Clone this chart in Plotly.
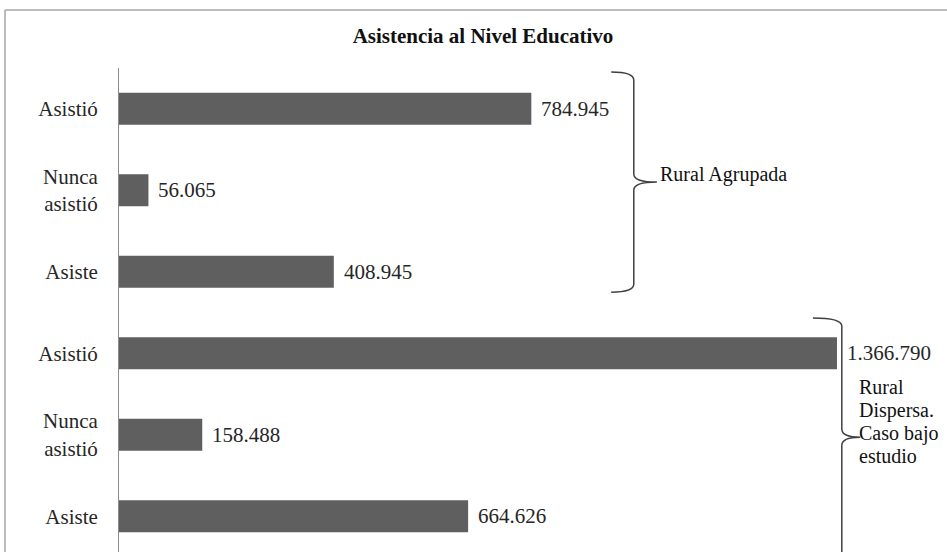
"""Asistencia al nivel educativo, rural agrupada vs rural dispersa."""

import plotly.graph_objects as go


CATEGORIES = ["Asistió", "Nunca<br>asistió", "Asiste",
              "Asistió", "Nunca<br>asistió", "Asiste"]
VALUES = [784945, 56065, 408945, 1366790, 158488, 664626]
GROUP_AGRUPADA = ["Rural Agrupada"]
GROUP_DISPERSA = ["Rural", "Dispersa.", "Caso bajo", "estudio"]
TITLE = "Asistencia al Nivel Educativo"

FONT = "Liberation Serif"
BAR_COLOR = "#5f5f5f"
TEXT_COLOR = "#262626"

W, H = 947, 552
M_L, M_R, M_T, M_B = 119, 0, 68, 0
SLOT = 81.5
PX_PER_UNIT = 525.3 / 1e6
LINE_GAP = 23


def spanish(n):
    return f"{n:,}".replace(",", ".")


def brace(x_line, x_hook, x_tip, y_top, y_mid, y_bot, r=0.1):
    """Curly bracket opening to the left, in data coordinates."""
    return (f"M {x_hook},{y_top} Q {x_line},{y_top} {x_line},{y_top + r} "
            f"L {x_line},{y_mid - r} Q {x_line},{y_mid} {x_tip},{y_mid} "
            f"Q {x_line},{y_mid} {x_line},{y_mid + r} "
            f"L {x_line},{y_bot - r} Q {x_line},{y_bot} {x_hook},{y_bot}")


def add_label(fig, lines, x, y):
    """Left aligned text block, one annotation per line for tight spacing."""
    mid = (len(lines) - 1) / 2
    for i, line in enumerate(lines):
        fig.add_annotation(x=x, y=y, text=line, showarrow=False,
                           xanchor="left", yanchor="middle",
                           yshift=(mid - i) * LINE_GAP,
                           font=dict(family=FONT, size=20, color="#111111"))


positions = list(range(len(VALUES)))
plot_w = W - M_L - M_R
plot_h = H - M_T - M_B
x_max = plot_w / PX_PER_UNIT
y_bottom = plot_h / SLOT - 0.5

fig = go.Figure(go.Bar(
    x=VALUES,
    y=positions,
    orientation="h",
    width=0.39,
    marker=dict(color=BAR_COLOR, line=dict(width=0)),
    hoverinfo="skip",
))

for pos, val in zip(positions, VALUES):
    fig.add_annotation(
        x=val, y=pos, text=spanish(val), showarrow=False,
        xanchor="left", yanchor="middle", xshift=8,
        font=dict(family=FONT, size=21, color=TEXT_COLOR),
    )

# brackets and group labels
fig.add_shape(type="path", xref="x", yref="y",
              path=brace(0.980e6, 0.937e6, 1.024e6, -0.45, 0.90, 2.25, 0.1),
              line=dict(color="#404040", width=1.5))
fig.add_shape(type="path", xref="x", yref="y",
              path=brace(1.376e6, 1.321e6, 1.411e6, 2.567, 4.03, 6.5, 0.1),
              line=dict(color="#404040", width=1.5))
add_label(fig, GROUP_AGRUPADA, 1.026e6, 0.81)
add_label(fig, GROUP_DISPERSA, 1.405e6, 3.84)

# outer frame (cropped on the right and bottom)
fx = (5 - M_L) / plot_w
fy = (H - 10 - M_B) / plot_h
fig.add_shape(type="line", xref="paper", yref="paper",
              x0=fx, y0=fy, x1=1.2, y1=fy,
              line=dict(color="#a6a6a6", width=1.5))
fig.add_shape(type="line", xref="paper", yref="paper",
              x0=fx, y0=-0.2, x1=fx, y1=fy,
              line=dict(color="#a6a6a6", width=1.5))

fig.update_layout(
    width=W, height=H,
    margin=dict(l=M_L, r=M_R, t=M_T, b=M_B, pad=0),
    paper_bgcolor="white", plot_bgcolor="white",
    showlegend=False,
    title=dict(text=f"<b>{TITLE}</b>", x=483 / W, xanchor="center",
               y=1 - 36 / H, yanchor="middle",
               font=dict(family=FONT, size=21, color="#111111")),
    xaxis=dict(visible=False, range=[0, x_max], fixedrange=True),
    yaxis=dict(
        range=[y_bottom, -0.5],
        tickvals=positions, ticktext=CATEGORIES,
        showgrid=False, zeroline=False,
        showline=True, linecolor="#8c8c8c", linewidth=1,
        ticks="", ticklabelstandoff=16,
        tickfont=dict(family=FONT, size=21, color=TEXT_COLOR),
        fixedrange=True,
    ),
)

# the page's default body margin would shift the whole picture by 8px
fig.write_html("out.html", config={"displayModeBar": False},
               post_script="document.body.style.margin='0';")
